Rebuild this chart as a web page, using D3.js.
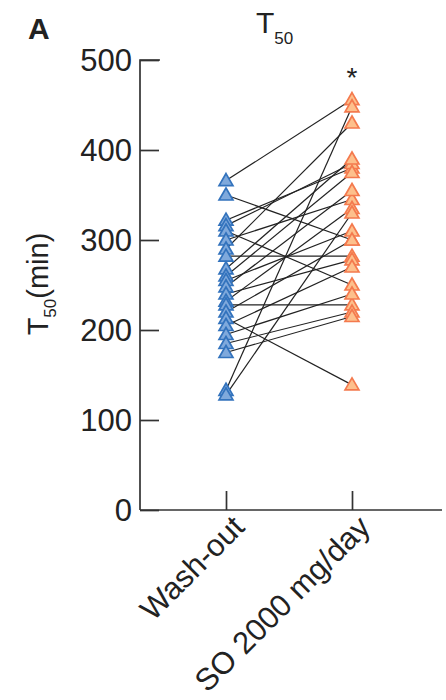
<!DOCTYPE html>
<html><head><meta charset="utf-8">
<script src="https://cdn.jsdelivr.net/npm/d3@7"></script>
<style>body{margin:0;background:#fff}svg{display:block}</style>
</head><body>
<script>
const groups = ["Wash-out", "SO 2000 mg/day"];
const washOut = [366, 350, 322, 316, 310, 300, 290, 282, 268, 260, 255, 248, 240, 232, 228, 220, 213, 205, 195, 185, 175, 133, 128];
const so2000  = [456, 300, 380, 385, 250, 345, 430, 282, 390, 375, 310, 355, 278, 335, 228, 300, 139, 270, 240, 220, 215, 448, 330];
const yTicks = [0, 100, 200, 300, 400, 500];

const W = 446, H = 700;
const svg = d3.select("body").append("svg").attr("width", W).attr("height", H);
const font = "'Liberation Sans', Arial, sans-serif";
const ink = "#222";

const x = d3.scalePoint().domain(groups).range([226, 352]);
const y = d3.scaleLinear().domain([0, 500]).range([510, 60]);

const axisColor = "#333";
// y axis
const ya = svg.append("g").attr("transform", "translate(140,0)")
  .call(d3.axisRight(y).tickValues(yTicks).tickSize(19).tickFormat(""));
ya.selectAll("path,line").attr("stroke", axisColor).attr("stroke-width", 1.7);
ya.select(".domain").attr("d", `M20,${y(500)}H0V${y(0)}`);
svg.append("g").selectAll("text").data(yTicks).join("text")
  .attr("x", 132).attr("y", d => y(d)).attr("dy", "0.36em")
  .attr("text-anchor", "end").attr("font-size", 31).attr("fill", ink)
  .style("font-family", font).text(d => d);

// x axis
const xa = svg.append("g").attr("transform", `translate(0,${y(0)})`)
  .call(d3.axisTop(x).tickSize(19).tickFormat(""));
xa.selectAll("path,line").attr("stroke", axisColor).attr("stroke-width", 1.7);
xa.select(".domain").attr("d", `M140,0H442`);
svg.append("g").selectAll("text").data(groups).join("text")
  .attr("transform", d => `translate(${x(d) + 20},${y(0) + 19}) rotate(-45)`)
  .attr("text-anchor", "end").attr("font-size", 31).attr("fill", ink)
  .style("font-family", font).text(d => d);

// paired lines
const pairs = washOut.map((v, i) => [v, so2000[i]]);
svg.append("g").selectAll("line").data(pairs).join("line")
  .attr("x1", x(groups[0])).attr("x2", x(groups[1]))
  .attr("y1", d => y(d[0])).attr("y2", d => y(d[1]))
  .attr("stroke", "#222").attr("stroke-width", 1.2);

const tri = d3.symbol().type(d3.symbolTriangle).size(84);
svg.append("g").selectAll("path").data(washOut).join("path")
  .attr("d", tri).attr("transform", d => `translate(${x(groups[0])},${y(d) + 1})`)
  .attr("fill", "#7fa9dc").attr("stroke", "#3373bd").attr("stroke-width", 1.7);
svg.append("g").selectAll("path").data(so2000).join("path")
  .attr("d", tri).attr("transform", d => `translate(${x(groups[1])},${y(d) + 1})`)
  .attr("fill", "#fdc08c").attr("stroke", "#f47a4e").attr("stroke-width", 1.7);

// asterisk
svg.append("text").attr("x", x(groups[1])).attr("y", 87).attr("text-anchor", "middle")
  .attr("font-size", 28).attr("fill", ink).style("font-family", font).text("*");

// title
const t = svg.append("text").attr("x", 256).attr("y", 33).attr("fill", ink).style("font-family", font);
t.append("tspan").attr("font-size", 30).text("T");
t.append("tspan").attr("font-size", 17).attr("dy", 11).text("50");

// panel letter
svg.append("text").attr("x", 28).attr("y", 39).attr("font-size", 30).attr("font-weight", "bold")
  .attr("fill", ink).style("font-family", font).text("A");

// y axis label
const yl = svg.append("text").attr("transform", "translate(48,284) rotate(-90)")
  .attr("text-anchor", "middle").attr("fill", ink).style("font-family", font);
yl.append("tspan").attr("font-size", 29).text("T");
yl.append("tspan").attr("font-size", 17).attr("dy", 8).text("50");
yl.append("tspan").attr("font-size", 29).attr("dy", -8).text("(min)");
</script>
</body></html>
